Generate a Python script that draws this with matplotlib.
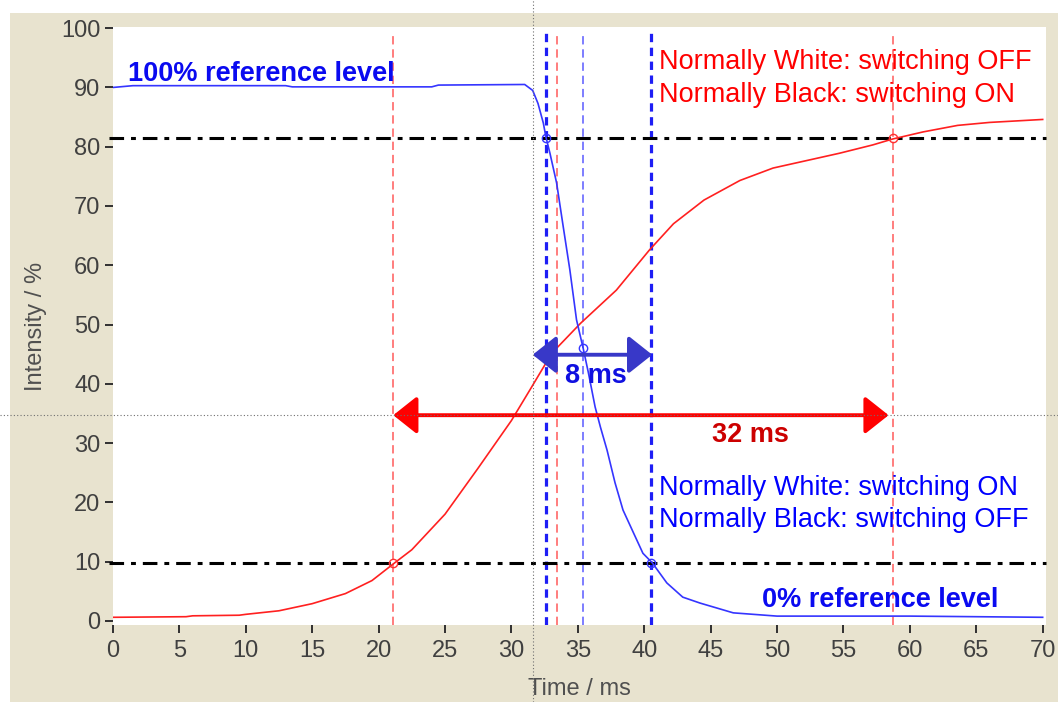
import matplotlib
matplotlib.use("Agg")
import matplotlib.pyplot as plt
from matplotlib.patches import Rectangle, FancyArrowPatch
from matplotlib.lines import Line2D
from matplotlib.transforms import blended_transform_factory

plt.rcParams['font.family'] = ['Liberation Sans', 'DejaVu Sans']
plt.rcParams['lines.scale_dashes'] = False

# red curve (rising) : time / ms, intensity / %
red_t = [0, 5.5, 6, 9.5, 10, 12.5, 15, 17.5, 19.5, 21.1, 22.5, 25, 27.5, 30,
         31.4, 32.6, 33.4, 35.2, 37.9, 40.4, 42.2, 44.5, 47.2, 49.7, 52.3,
         54.7, 57.2, 58.7, 61, 63.6, 66, 70]
red_v = [0.6, 0.7, 0.85, 0.95, 1.1, 1.7, 2.9, 4.6, 6.8, 9.6, 12.0, 18.0, 25.8,
         33.8, 39.0, 43.5, 46.0, 50.2, 55.8, 62.6, 67.0, 71.0, 74.3, 76.4,
         77.7, 78.9, 80.3, 81.3, 82.5, 83.6, 84.1, 84.6]

# blue curve (falling)
blue_t = [0, 1.5, 13, 13.5, 24, 24.5, 31, 31.6, 32.0, 32.4, 32.6, 32.9, 33.4,
          33.9, 34.4, 34.9, 35.4, 35.8, 36.3, 36.7, 37.2, 37.8, 38.4, 39.2,
          39.9, 40.6, 41.7, 42.9, 44.2, 46.7, 50, 60, 70]
blue_v = [90.0, 90.3, 90.3, 90.1, 90.1, 90.4, 90.5, 89.5, 87.3, 84.0, 81.6,
          78.9, 73.9, 66.5, 59.2, 50.8, 46.0, 41.8, 36.1, 32.7, 28.8, 23.3,
          18.7, 14.8, 11.4, 9.8, 6.4, 4.0, 3.0, 1.35, 0.8, 0.8, 0.6]

ref_levels = [9.7, 81.5]
red_marks_t = [21.1, 58.7]
blue_marks_t = [32.6, 40.5]
blue_mid_t = 35.4
red_mid_t = 33.4
blue_pts = [(32.6, 81.5), (35.4, 46.0), (40.5, 9.7)]
red_pts = [(21.1, 9.7), (58.7, 81.5)]
cursor_t, cursor_v = 31.6, 34.7
blue_arrow = (31.6, 40.6, 44.9)
red_arrow = (21.1, 58.4, 34.7)

bg = '#E8E3CF'
fig = plt.figure(figsize=(10.58, 7.02), dpi=100)
fig.patch.set_facecolor('white')
fig.add_artist(Rectangle((10 / 1058, 0), 1, 689 / 702, transform=fig.transFigure,
                         facecolor=bg, edgecolor='none', zorder=0))

ax = fig.add_axes([113 / 1058, 77 / 702, 933 / 1058, 598 / 702])
ax.set_xlim(0, 70.25)
ax.set_ylim(-0.7, 100.2)
for s in ax.spines.values():
    s.set_visible(False)

ax.set_xticks(range(0, 71, 5))
ax.set_yticks(range(0, 101, 10))
ax.tick_params(length=6, width=1.4, color='#303030', labelcolor='#404040',
               labelsize=17)
ax.tick_params(axis='y', pad=3)
ax.tick_params(axis='x', pad=5)
ax.set_xlabel('Time / ms', fontsize=17, color='#505050', labelpad=11)
ax.set_ylabel('Intensity / %', fontsize=17, color='#505050', labelpad=10)

# reference level lines
for lv in ref_levels:
    ax.axhline(lv, xmin=-0.004, color='black', lw=2.2, dashes=(10.5, 5, 3.5, 5),
               clip_on=False, zorder=3)

# vertical markers
top = 99.2
for t in red_marks_t + [red_mid_t]:
    ax.vlines(t, -0.7, top, color='#FF5A5A', lw=1.1, linestyles=[(0, (6, 3.5))],
              zorder=2)
for t in blue_marks_t:
    ax.vlines(t, -0.7, top, color='#1E1EF5', lw=2.3, linestyles=[(0, (6, 4))],
              zorder=2)
ax.vlines(blue_mid_t, -0.7, top, color='#5A5AFF', lw=1.1,
          linestyles=[(0, (6, 3.5))], zorder=2)

ax.plot(red_t, red_v, color='#FF2020', lw=1.2, zorder=4)
ax.plot(blue_t, blue_v, color='#3535FF', lw=1.2, zorder=4)

ax.plot([p[0] for p in blue_pts], [p[1] for p in blue_pts], 'o', ms=6,
        mfc='none', mec='#3535FF', mew=1.0, zorder=5)
ax.plot([p[0] for p in red_pts], [p[1] for p in red_pts], 'o', ms=6,
        mfc='none', mec='#FF3030', mew=1.0, zorder=5)

# arrows
for (x0, x1, y), col in [(blue_arrow, '#3838C8'), (red_arrow, '#FF0000')]:
    ar = FancyArrowPatch((x0, y), (x1, y),
                         arrowstyle='<|-|>,head_length=1.45,head_width=1.15',
                         mutation_scale=10, color=col, lw=2.8,
                         shrinkA=0, shrinkB=0, zorder=6)
    ax.add_patch(ar)

# cursor cross lines spanning the whole figure
tv = blended_transform_factory(ax.transData, fig.transFigure)
th = blended_transform_factory(fig.transFigure, ax.transData)
fig.add_artist(Line2D([cursor_t, cursor_t], [0, 1], transform=tv, color='#707070',
                      lw=0.8, dashes=(0.8, 1.6), zorder=7))
fig.add_artist(Line2D([0, 1], [cursor_v, cursor_v], transform=th, color='#707070',
                      lw=0.8, dashes=(0.8, 1.6), zorder=7))

# texts
ax.text(1.13, 91.1, '100% reference level', color='#0A0AF0', fontsize=19.5,
        fontweight='bold', zorder=8)
ax.text(48.9, 2.4, '0% reference level', color='#0A0AF0', fontsize=19.5,
        fontweight='bold', zorder=8)
ax.text(41.1, 93.1, 'Normally White: switching OFF', color='#FF0000',
        fontsize=19.5, zorder=8)
ax.text(41.1, 87.5, 'Normally Black: switching ON', color='#FF0000',
        fontsize=19.5, zorder=8)
ax.text(41.1, 21.2, 'Normally White: switching ON', color='#0000FF',
        fontsize=19.5, zorder=8)
ax.text(41.1, 15.9, 'Normally Black: switching OFF', color='#0000FF',
        fontsize=19.5, zorder=8)
ax.text(34.0, 40.1, '8 ms', color='#1010E0', fontsize=19.5, fontweight='bold',
        zorder=8)
ax.text(45.1, 30.2, '32 ms', color='#CC0000', fontsize=19.5, fontweight='bold',
        zorder=8)

fig.savefig('out.png', dpi=100, facecolor=fig.get_facecolor())
